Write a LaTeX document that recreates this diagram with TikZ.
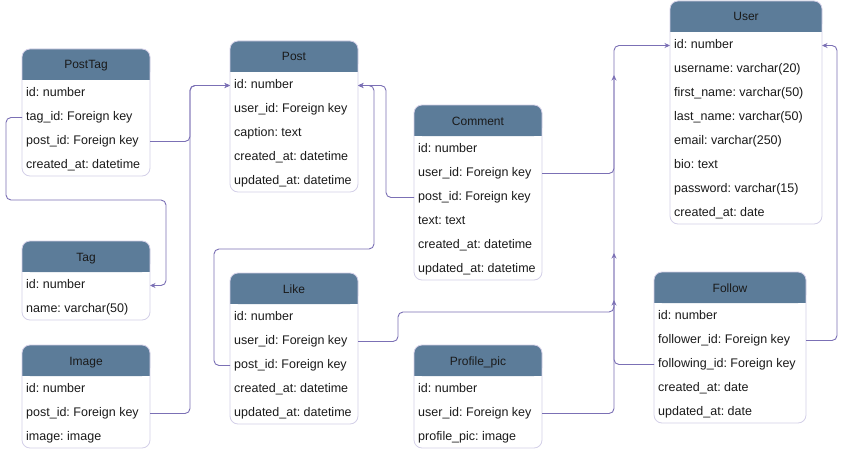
\documentclass[tikz,border=0pt]{standalone}
\usepackage{fontspec}
\setmainfont{Liberation Sans}
\usetikzlibrary{arrows.meta}
\definecolor{headfill}{HTML}{5C7C99}
\definecolor{tabborder}{HTML}{D4D0E8}
\definecolor{fkline}{HTML}{7B70B5}
\definecolor{txt}{HTML}{1A1A1A}
\frenchspacing

% #1 name, #2 x, #3 y, #4 width, #5 title, #6 number of rows, #7 rows
\newcommand\ertab[7]{%
  \pgfmathsetmacro\tabh{31+24*#6}%
  \node[tabframe, minimum width=#4pt, minimum height=\tabh pt, anchor=north west] (#1) at (#2,#3) {};
  \fill[headfill, rounded corners=8pt] (#2,#3) rectangle ++(#4,31);
  \fill[headfill] (#2,#3+20) rectangle ++(#4,11);
  \draw[tabborder, line width=0.8pt, rounded corners=8pt] (#2,#3) rectangle ++(#4,\tabh);
  \node[headtext] (#1-h) at (#2+#4/2,#3+17) {#5};
  \foreach \rowtxt [count=\i] in {#7} {
    \node[rowtext] (#1-\i) at (#2+4,#3+31+24*\i-10.5) {\rowtxt};
  }%
}

\begin{document}
\begin{tikzpicture}[x=1pt,y=-1pt,
  tabframe/.style={draw=none, fill=white, inner sep=0pt, outer sep=0pt, rectangle, rounded corners=8pt},
  headtext/.style={inner sep=0pt, text height=9pt, text depth=3pt, text=txt, font=\fontsize{12}{14}\selectfont},
  rowtext/.style={inner sep=0pt, anchor=west, text height=9pt, text depth=3pt, text=txt, font=\fontsize{12.5}{14}\selectfont},
  fk/.style={draw=fkline, line width=0.9pt, rounded corners=5pt, -{Stealth[length=5.5pt,width=5pt]}}
]
\useasboundingbox (0,0) rectangle (846,452);
\fill[white] (0,0) rectangle (846,452);

\ertab{posttag}{22}{49}{128}{PostTag}{4}{id: number,tag\_id: Foreign key,post\_id: Foreign key,created\_at: datetime}
\ertab{post}{230}{41}{128}{Post}{5}{id: number,user\_id: Foreign key,caption: text,created\_at: datetime,updated\_at: datetime}
\ertab{comment}{414}{105}{128}{Comment}{6}{id: number,user\_id: Foreign key,post\_id: Foreign key,text: text,created\_at: datetime,updated\_at: datetime}
\ertab{user}{670}{1}{152}{User}{8}{id: number,username: varchar(20),first\_name: varchar(50),last\_name: varchar(50),email: varchar(250),bio: text,password: varchar(15),created\_at: date}
\ertab{tag}{22}{241}{128}{Tag}{2}{id: number,name: varchar(50)}
\ertab{image}{22}{345}{128}{Image}{3}{id: number,post\_id: Foreign key,image: image}
\ertab{like}{230}{273}{128}{Like}{5}{id: number,user\_id: Foreign key,post\_id: Foreign key,created\_at: datetime,updated\_at: datetime}
\ertab{profile}{414}{345}{128}{Profile\_pic}{3}{id: number,user\_id: Foreign key,profile\_pic: image}
\ertab{follow}{654}{272}{152}{Follow}{5}{id: number,follower\_id: Foreign key,following\_id: Foreign key,created\_at: date,updated\_at: date}

\coordinate (likeend) at (614,75);
\coordinate (followend) at (614,253);
\coordinate (profileend) at (614,300);

% to Post.id
\draw[fk] (posttag.east |- posttag-3) -- ++(40,0) |- (post.west |- post-1);
\draw[fk] (image.east |- image-2) -- ++(40,0) |- (post.west |- post-1);
\draw[fk] (comment.west |- comment-3) -- ++(-28,0) |- (post.east |- post-1);
\draw[fk] (like.west |- like-3) -| (214,249) -- (374,249) |- (post.east |- post-1);
% to Tag.id
\draw[fk] (posttag.west |- posttag-2) -| (6,200) -- (166,200) |- (tag.east |- tag-1);
% to User.id
\draw[fk] (comment.east |- comment-2) -- ++(72,0) |- (user.west |- user-1);
\draw[fk] (like.east |- like-2) -- ++(40,0) |- (614,312) -- (likeend);
\draw[fk] (follow.west |- follow-3) -| (followend);
\draw[fk] (profile.east |- profile-2) -| (profileend);
\draw[fk] (follow.east |- follow-2) -- ++(31,0) |- (user.east |- user-1);
\end{tikzpicture}
\end{document}
